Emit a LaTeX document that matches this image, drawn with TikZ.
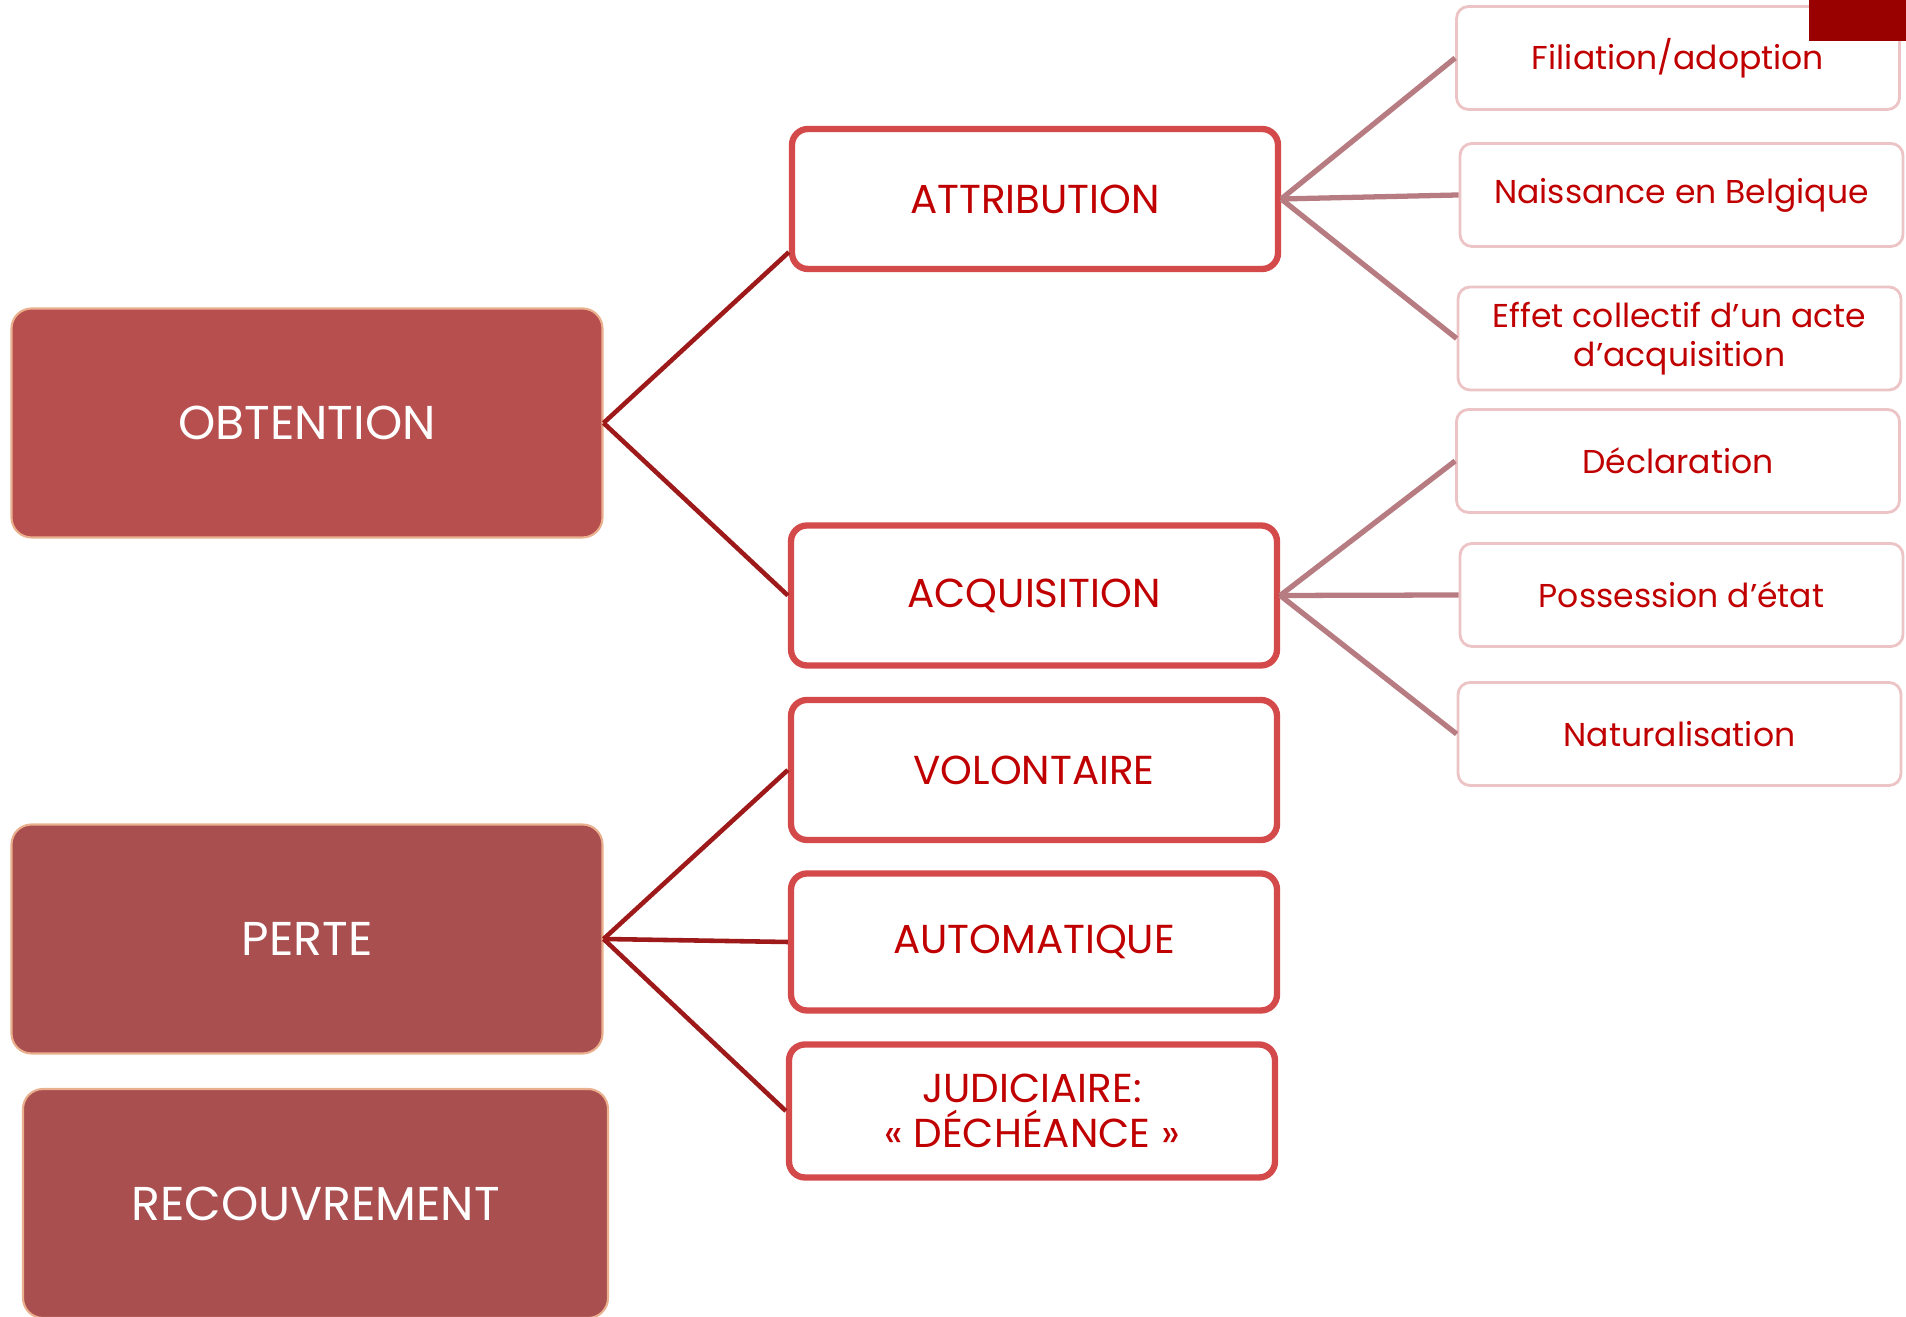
\documentclass[tikz,border=0pt]{standalone}
\usepackage{fontspec}
\setmainfont{Poppins}
\usepackage{tikz}
\usetikzlibrary{positioning}

\definecolor{bigred}{HTML}{B84F4F}
\definecolor{bigdark}{HTML}{A94F50}
\definecolor{bigedge}{HTML}{EAB08E}
\definecolor{midedge}{HTML}{D44A4A}
\definecolor{smalledge}{HTML}{EDC4C6}
\definecolor{txtred}{HTML}{C00000}
\definecolor{linkdark}{HTML}{9E1A1A}
\definecolor{linklight}{HTML}{B77C82}
\definecolor{corner}{HTML}{990000}

\tikzset{
  bigbox/.style={rectangle, rounded corners=0.2cm, minimum width=5.91cm,
    minimum height=2.29cm, fill=bigred, draw=bigedge, line width=0.6pt,
    text=white, font=\fontsize{13.5}{16}\selectfont},
  midbox/.style={rectangle, rounded corners=0.16cm, minimum width=4.86cm,
    minimum height=1.37cm, fill=white, draw=midedge, line width=1.8pt,
    text=txtred, align=center, font=\fontsize{11.5}{13}\selectfont},
  smallbox/.style={rectangle, rounded corners=0.12cm, minimum width=4.43cm,
    minimum height=1.03cm, fill=white, draw=smalledge, line width=0.8pt,
    text=txtred, align=center, font=\fontsize{9.4}{11}\selectfont},
  darklink/.style={draw=linkdark, line width=1.3pt},
  lightlink/.style={draw=linklight, line width=1.5pt}
}

\begin{document}
\begin{tikzpicture}
    \useasboundingbox (0,0) rectangle (19.06,13.17);

    % left column
    \node[bigbox] (obt) at (3.07, 8.94) {OBTENTION};
    \node[bigbox, fill=bigdark] (perte) at (3.07, 3.78) {PERTE};
    \node[bigbox, fill=bigdark, minimum width=5.85cm] (recouv) at (3.155, 1.135) {RECOUVREMENT};

    % middle column
    \node[midbox, minimum height=1.40cm] (attr) at (10.35, 11.18) {ATTRIBUTION};
    \node[midbox, minimum height=1.40cm] (acq) at (10.34, 7.215) {ACQUISITION};
    \node[midbox, minimum height=1.40cm] (volont) at (10.34, 5.47) {VOLONTAIRE};
    \node[midbox] (auto) at (10.34, 3.75) {AUTOMATIQUE};
    \node[midbox, minimum height=1.33cm] (judic) at (10.32, 2.06) {JUDICIAIRE:\\« DÉCHÉANCE »};

    % right column
    \node[smallbox] (filiation) at (16.78, 12.59) {Filiation/adoption};
    \node[smallbox] (naissance) at (16.815, 11.22) {Naissance en Belgique};
    \node[smallbox] (effet) at (16.795, 9.785) {Effet collectif d’un acte\\d’acquisition};
    \node[smallbox] (decl) at (16.78, 8.56) {Déclaration};
    \node[smallbox] (possession) at (16.815, 7.22) {Possession d’état};
    \node[smallbox] (natur) at (16.795, 5.83) {Naturalisation};

    % links from the left column
    \draw[darklink] (obt.east) -- ([yshift=0.2cm]attr.south west);
    \draw[darklink] (obt.east) -- (acq.west);
    \draw[darklink] (perte.east) -- (volont.west);
    \draw[darklink] (perte.east) -- (auto.west);
    \draw[darklink] (perte.east) -- (judic.west);

    % links to the right column
    \draw[lightlink] (attr.east) -- (filiation.west);
    \draw[lightlink] (attr.east) -- (naissance.west);
    \draw[lightlink] (attr.east) -- (effet.west);
    \draw[lightlink] (acq.east) -- (decl.west);
    \draw[lightlink] (acq.east) -- (possession.west);
    \draw[lightlink] (acq.east) -- (natur.west);

    % corner mark
    \fill[corner] (18.09,12.76) rectangle (19.06,13.17);

\end{tikzpicture}
\end{document}
